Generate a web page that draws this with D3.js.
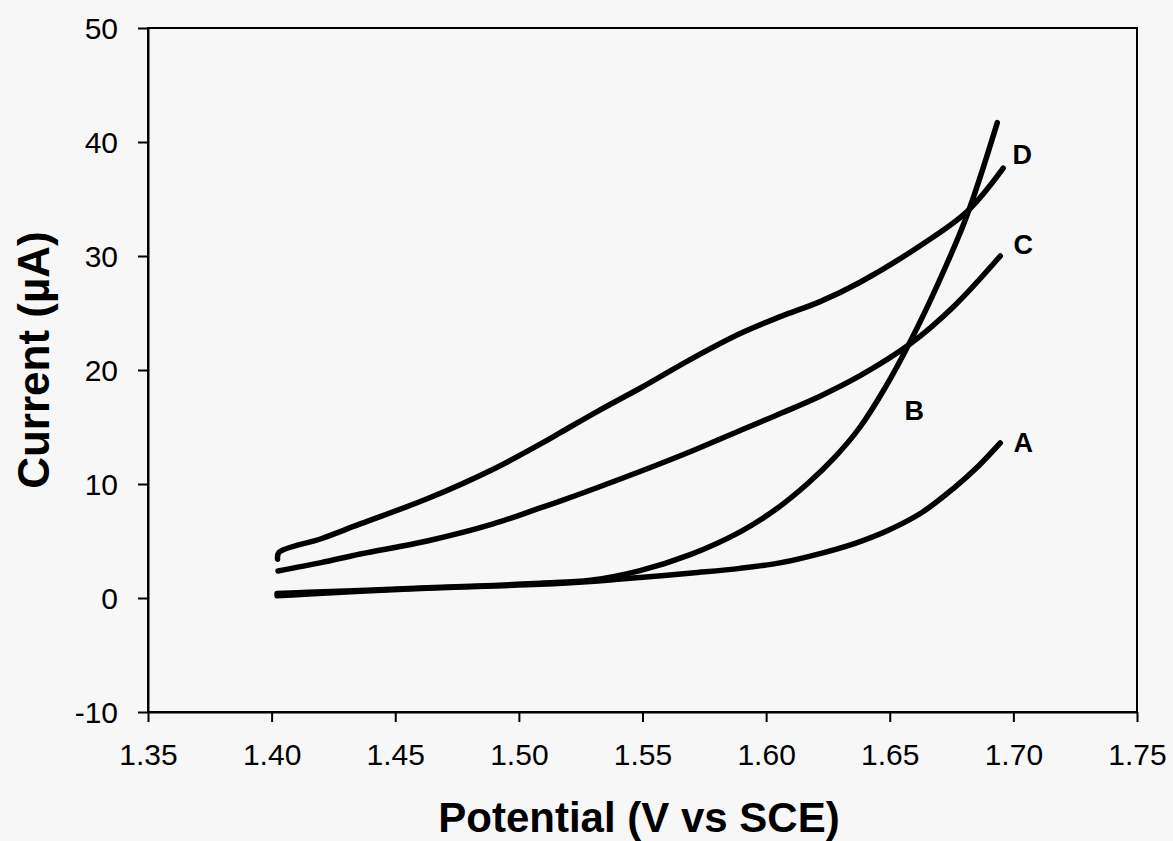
<!DOCTYPE html>
<html>
<head>
<meta charset="utf-8">
<script src="https://cdn.jsdelivr.net/npm/d3@7"></script>
<style>
  html, body { margin: 0; padding: 0; background: #f7f7f7; }
  svg { display: block; }
  text { font-family: "Liberation Sans", Arial, sans-serif; fill: #000; }
</style>
</head>
<body>
<svg id="chart" width="1173" height="841"></svg>
<script>
// ---- data (Potential V vs SCE, Current µA) ----
const xTicks = [1.35, 1.40, 1.45, 1.50, 1.55, 1.60, 1.65, 1.70, 1.75];
const yTicks = [-10, 0, 10, 20, 30, 40, 50];

const seriesA_V = [1.4022, 1.415, 1.4358, 1.4629, 1.4896, 1.5086, 1.5290, 1.549, 1.5700, 1.5895, 1.6060, 1.6218, 1.6360, 1.649, 1.6630, 1.6757, 1.6860, 1.6947];
const seriesA_I = [0.2,    0.35,  0.6,    0.85,   1.05,   1.2,    1.45,   1.8,   2.2,    2.6,    3.1,    3.9,    4.8,    5.9,   7.5,    9.6,    11.6,   13.6];

const seriesB_V = [1.4022, 1.415, 1.4358, 1.4629, 1.4896, 1.5086, 1.5290, 1.549, 1.5693, 1.5895, 1.6028, 1.6166, 1.6280, 1.638, 1.6480, 1.6583, 1.6700, 1.6813, 1.6935];
const seriesB_I = [0.4,    0.5,   0.65,   0.9,    1.1,    1.3,    1.55,   2.4,   3.8,    5.8,    7.6,    10.0,   12.4,   15.0,  18.4,   22.5,   27.8,   33.6,   41.7];

const seriesC_V = [1.4026, 1.4200, 1.4358, 1.4629, 1.4896, 1.5086, 1.5167, 1.549, 1.5700, 1.5895, 1.6060, 1.6218, 1.638, 1.6583, 1.6760, 1.6947];
const seriesC_I = [2.37,   3.1,    3.86,   5.0,    6.5,    7.9,    8.5,    11.1,  12.9,   14.7,   16.2,   17.7,   19.5,  22.3,   25.6,   30.0];

const seriesD_V = [1.4024, 1.4030, 1.4200, 1.4358, 1.4629, 1.4896, 1.5086, 1.5167, 1.5320, 1.549, 1.5700, 1.5895, 1.6060, 1.6218, 1.638, 1.6623, 1.6813, 1.6959];
const seriesD_I = [3.4,    4.0,    5.2,    6.5,    8.7,    11.3,   13.5,   14.5,   16.4,   18.4,  21.0,   23.2,   24.7,   26.0,   27.7,  30.9,   33.9,   37.7];

const labelNames = ["A", "B", "C", "D"];
const labelV = [1.7040, 1.6599, 1.7040, 1.7036];
const labelI = [13.7, 16.5, 31.0, 38.9];

const xTitle = "Potential (V vs SCE)";
const yTitle = "Current (\u00B5A)";

// ---- layout ----
const svg = d3.select("#chart");
const plotLeft = 148, plotRight = 1137, plotTop = 28, plotBottom = 712;

const x = d3.scaleLinear().domain([1.35, 1.75]).range([plotLeft, plotRight]);
const y = d3.scaleLinear().domain([-10, 50]).range([plotBottom, plotTop]);

// frame
svg.append("rect")
  .attr("x", x(1.35)).attr("y", y(50))
  .attr("width", x(1.75) - x(1.35)).attr("height", y(-10) - y(50))
  .attr("fill", "none").attr("stroke", "#000").attr("stroke-width", 2);

// axes
const xAxis = svg.append("g")
  .attr("transform", `translate(0,${y(-10)})`)
  .call(d3.axisBottom(x).tickValues(xTicks).tickFormat(d3.format(".2f")).tickSize(10).tickSizeOuter(0).tickPadding(22));
const yAxis = svg.append("g")
  .attr("transform", `translate(${x(1.35)},0)`)
  .call(d3.axisLeft(y).tickValues(yTicks).tickFormat(d => String(d)).tickSize(10).tickSizeOuter(0).tickPadding(20));

[xAxis, yAxis].forEach(g => {
  g.select(".domain").attr("stroke", "#000").attr("stroke-width", 2);
  g.selectAll(".tick line").attr("stroke", "#000").attr("stroke-width", 2);
  g.selectAll(".tick text")
    .attr("fill", "#000")
    .style("font-family", '"Liberation Sans", Arial, sans-serif')
    .style("font-size", "30px");
});
yAxis.selectAll(".tick text").attr("dy", "0.36em");

// curves
const line = d3.line()
  .x(d => x(d[0]))
  .y(d => y(d[1]))
  .curve(d3.curveCatmullRom.alpha(0.5));

const series = [
  [seriesA_V, seriesA_I],
  [seriesB_V, seriesB_I],
  [seriesC_V, seriesC_I],
  [seriesD_V, seriesD_I]
];

series.forEach(([vs, is]) => {
  const pts = vs.map((v, i) => [v, is[i]]);
  svg.append("path")
    .datum(pts)
    .attr("d", line)
    .attr("fill", "none")
    .attr("stroke", "#000")
    .attr("stroke-width", 5.5)
    .attr("stroke-linecap", "round")
    .attr("stroke-linejoin", "round");
});

// curve labels
labelNames.forEach((n, i) => {
  svg.append("text")
    .attr("x", x(labelV[i]))
    .attr("y", y(labelI[i]))
    .attr("dy", "0.36em")
    .attr("text-anchor", "middle")
    .style("font-weight", "bold")
    .style("font-size", "27px")
    .text(n);
});

// axis titles
svg.append("text")
  .attr("x", 639).attr("y", 832)
  .attr("text-anchor", "middle")
  .style("font-weight", "bold")
  .style("font-size", "42px")
  .text(xTitle);

svg.append("text")
  .attr("transform", "translate(49,360) rotate(-90)")
  .attr("text-anchor", "middle")
  .style("font-weight", "bold")
  .style("font-size", "44px")
  .text(yTitle);
</script>
</body>
</html>
